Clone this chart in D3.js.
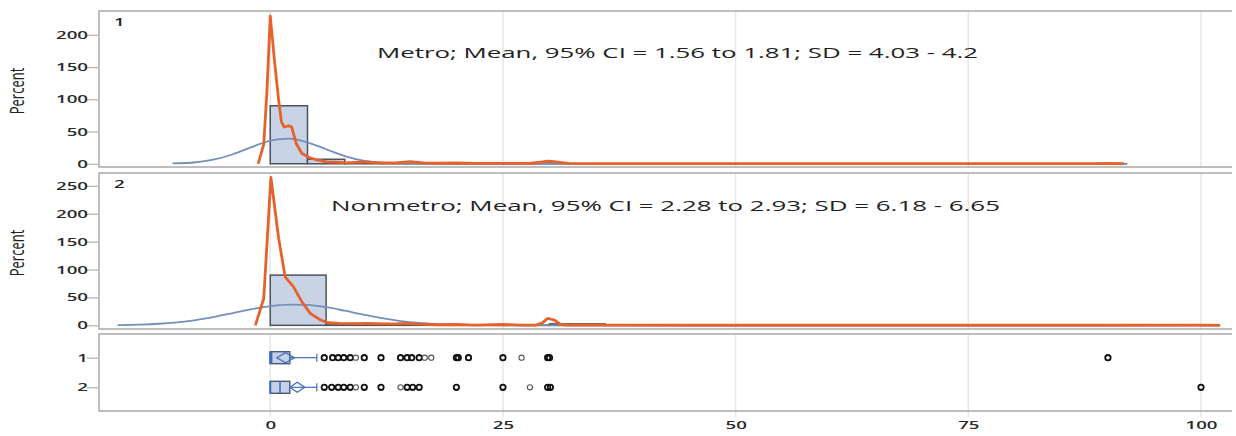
<!DOCTYPE html>
<html>
<head>
<meta charset="utf-8">
<script src="https://cdn.jsdelivr.net/npm/d3@7"></script>
<style>
  body { margin: 0; background: #fff; }
  svg text { font-family: "Open Sans", "DejaVu Sans", sans-serif; fill: #333; }
</style>
</head>
<body>
<div class="chart"></div>
<script>
// ---- data ----
const xTicks = [0, 25, 50, 75, 100];
const panelNames = ["1", "2"];
const yTicksMetro = [0, 50, 100, 150, 200];
const yTicksNonmetro = [0, 50, 100, 150, 200, 250];

const metroNote = "Metro; Mean, 95% CI = 1.56 to 1.81; SD = 4.03 - 4.2";
const nonmetroNote = "Nonmetro; Mean, 95% CI = 2.28 to 2.93; SD = 6.18 - 6.65";

// histogram bins [start, end, percent]
const metroHist = [[0, 4, 90], [4, 8, 7], [8, 12, 1.2], [12, 16, 0.6], [16, 20, 0.3], [20, 24, 0.3], [24, 28, 0.2], [28, 32, 1.2], [88, 92, 0.1]];
const nonmetroHist = [[0, 6, 90], [6, 12, 3], [12, 18, 1.5], [18, 24, 0.6], [24, 30, 0.4], [30, 36, 2.5], [96, 102, 0.2]];

// kernel density (orange)
const metroKdeX = [-1.3, -0.7, -0.35, 0, 0.45, 0.9, 1.2, 1.5, 2.0, 2.3, 2.8, 3.4, 4.3, 5.0, 6.1, 7, 8.2, 10, 11.8, 13.5, 15, 16.5, 18, 20, 22, 25, 28, 29.5, 30, 30.7, 32, 35, 40, 60, 80, 88, 90, 91.7];
const metroKdeY = [0, 30, 114, 229, 160, 99, 65, 57, 59, 57, 31, 16, 9, 6, 3, 2.5, 1.5, 2.8, 1.5, 1.5, 3.5, 1.5, 0.8, 1.2, 0.6, 0.5, 0.8, 3.5, 4, 3, 0.5, 0.3, 0.1, 0.1, 0.1, 0.2, 0.5, 0.1];
const nonmetroKdeX = [-1.6, -0.7, 0.07, 0.9, 1.6, 2.5, 3.4, 4.3, 5.4, 6.2, 7.5, 9, 10.5, 12, 13.5, 14.5, 16, 18, 20, 22, 25, 27, 28.5, 29.2, 29.8, 30.5, 31.2, 32, 35, 45, 70, 90, 100, 102];
const nonmetroKdeY = [0, 48, 265, 156, 87, 69, 42, 21.5, 9.5, 4.7, 3.5, 3, 3.5, 2.5, 2.5, 3.5, 2, 1, 1.5, 0.5, 1.5, 0.3, 0.5, 4, 12.5, 9.5, 1.5, 0.3, 0.2, 0.1, 0.1, 0.1, 0.3, 0];

// fitted normal curve (blue)
const metroNormX = [-10.5, -8, -6, -4, -2, 0, 2, 4, 6, 8, 10, 12, 14, 16, 20, 25, 92];
const metroNormY = [0.5, 2.4, 6.7, 14.8, 25.9, 35.8, 38.9, 33.3, 22.5, 12.0, 5.0, 1.7, 0.4, 0.1, 0, 0, 0];
const nonmetroNormX = [-16.4, -14, -12, -10, -8, -6, -4, -2, 0, 2, 4, 6, 8, 10, 12, 14, 16, 18, 20, 22, 25, 30, 102];
const nonmetroNormY = [0.5, 1.3, 2.8, 5.4, 9.5, 15.2, 22.0, 28.9, 34.4, 37.2, 36.5, 32.5, 26.2, 19.2, 12.7, 7.7, 4.2, 2.1, 0.9, 0.4, 0.1, 0, 0];

// box plots
const boxStats = [
  { name: "1", q1: 0, median: 0.15, q3: 2.1, lo: 0, hi: 5, dLo: 0.7, dHi: 2.6 },
  { name: "2", q1: 0, median: 1.05, q3: 2.1, lo: 0, hi: 5, dLo: 2.1, dHi: 3.7 }
];
const metroOut = [5.8, 6.7, 7.3, 7.9, 8.6, 10.1, 11.9, 14, 14.7, 15.2, 16, 20, 20.2, 21.3, 25, 29.8, 30, 90];
const metroOutLight = [9.2, 16.6, 17.3, 27];
const nonmetroOut = [5.8, 6.6, 7.3, 7.9, 8.6, 10.1, 11.9, 14.7, 15.3, 16, 20, 25, 29.8, 30.1, 100];
const nonmetroOutLight = [9.2, 14, 27.9];

// ---- layout ----
const W = 1236, H = 436;
const left = 99, right = 1228;
const gridCol = "#e6e6e6", frameCol = "#a9a9a9";
const sxTick = 1.7;

const svg = d3.select(".chart").append("svg")
  .attr("width", W).attr("height", H);

const x = d3.scaleLinear().domain([-18.4, 102.9]).range([left, right]);

const panels = [
  { top: 11, bottom: 167, y: d3.scaleLinear().domain([-5, 237]).range([167, 11]), ticks: yTicksMetro,
    hist: metroHist, kx: metroKdeX, ky: metroKdeY, nx: metroNormX, ny: metroNormY, note: metroNote, noteX: 377, noteW: 601, noteY: 58 },
  { top: 173, bottom: 329, y: d3.scaleLinear().domain([-6.6, 273]).range([329, 173]), ticks: yTicksNonmetro,
    hist: nonmetroHist, kx: nonmetroKdeX, ky: nonmetroKdeY, nx: nonmetroNormX, ny: nonmetroNormY, note: nonmetroNote, noteX: 331, noteW: 669, noteY: 211 }
];

function styleLeftAxis(g) {
  g.select(".domain").remove();
  g.selectAll(".tick line").attr("stroke", "#b0b0b0").attr("stroke-width", 1.2);
  g.selectAll(".tick text")
    .attr("x", -10 / sxTick)
    .attr("transform", `scale(${sxTick},1)`)
    .style("font-size", "11px").style("font-weight", 600).style("fill", "#2a2a2a");
}

panels.forEach((p, i) => {
  const g = svg.append("g");
  // grid
  g.selectAll(".grid").data(xTicks).join("line")
    .attr("x1", d => x(d)).attr("x2", d => x(d))
    .attr("y1", p.top).attr("y2", p.bottom)
    .attr("stroke", gridCol).attr("stroke-width", 1.5);

  // histogram
  g.selectAll(".bar").data(p.hist).join("rect")
    .attr("x", d => x(d[0])).attr("width", d => x(d[1]) - x(d[0]))
    .attr("y", d => p.y(d[2])).attr("height", d => p.y(0) - p.y(d[2]))
    .attr("fill", "#c9d3e6").attr("stroke", "#4d525c").attr("stroke-width", 1.5);

  // normal fit
  const normLine = d3.line().x(d => x(d[0])).y(d => p.y(d[1])).curve(d3.curveMonotoneX);
  g.append("path").datum(d3.zip(p.nx, p.ny))
    .attr("d", normLine).attr("fill", "none")
    .attr("stroke", "#7390b8").attr("stroke-width", 1.8);

  // kernel density
  const kdeLine = d3.line().x(d => x(d[0])).y(d => p.y(d[1]));
  g.append("path").datum(d3.zip(p.kx, p.ky))
    .attr("d", kdeLine).attr("fill", "none")
    .attr("stroke", "#e5622b").attr("stroke-width", 2.8).attr("stroke-linejoin", "round");

  // frame (top, left, bottom)
  g.append("path")
    .attr("d", `M${right + 4},${p.top}H${left}V${p.bottom}H${right + 4}`)
    .attr("fill", "none").attr("stroke", frameCol).attr("stroke-width", 1.5);

  // y axis
  svg.append("g").attr("transform", `translate(${left - 1},0)`)
    .call(d3.axisLeft(p.y).tickValues(p.ticks).tickSize(11).tickPadding(0))
    .call(styleLeftAxis);

  // y title
  svg.append("text")
    .attr("transform", `translate(24,${(p.top + p.bottom) / 2 + 2}) scale(1.6,1) rotate(-90)`)
    .attr("text-anchor", "middle")
    .style("font-size", "13px").style("fill", "#222")
    .text("Percent");

  // panel number
  svg.append("text")
    .attr("transform", `translate(114,${p.top + 15}) scale(1.7,1)`)
    .style("font-size", "11px").style("font-weight", 600).style("fill", "#222")
    .text(panelNames[i]);

  // annotation
  svg.append("text")
    .attr("x", p.noteX).attr("y", p.noteY)
    .attr("textLength", p.noteW).attr("lengthAdjust", "spacingAndGlyphs")
    .style("font-size", "14px").style("fill", "#222")
    .text(p.note);
});

// ---- box plot panel ----
const bTop = 334, bBottom = 411;
const yb = d3.scalePoint().domain(panelNames).range([bTop, bBottom]).padding(0.8);
const gb = svg.append("g");

gb.selectAll(".grid").data(xTicks).join("line")
  .attr("x1", d => x(d)).attr("x2", d => x(d))
  .attr("y1", bTop).attr("y2", bBottom + 6)
  .attr("stroke", gridCol).attr("stroke-width", 1.5);

const outliers = [[metroOut, metroOutLight], [nonmetroOut, nonmetroOutLight]];
const bh = 12, blue = "#3d6cc4";

boxStats.forEach((b, i) => {
  const cy = yb(b.name);
  const g = gb.append("g");
  g.append("line").attr("x1", x(b.q3)).attr("x2", x(b.hi)).attr("y1", cy).attr("y2", cy)
    .attr("stroke", blue).attr("stroke-width", 1.2);
  g.append("line").attr("x1", x(b.hi)).attr("x2", x(b.hi)).attr("y1", cy - 4).attr("y2", cy + 4)
    .attr("stroke", blue).attr("stroke-width", 1.2);
  g.append("rect").attr("x", x(b.q1)).attr("width", x(b.q3) - x(b.q1))
    .attr("y", cy - bh / 2).attr("height", bh)
    .attr("fill", "#c6d1e8").attr("stroke", "#4a5875").attr("stroke-width", 1.4);
  g.append("line").attr("x1", x(b.lo)).attr("x2", x(b.lo)).attr("y1", cy - bh / 2).attr("y2", cy + bh / 2)
    .attr("stroke", blue).attr("stroke-width", 2);
  g.append("line").attr("x1", x(b.median)).attr("x2", x(b.median)).attr("y1", cy - bh / 2).attr("y2", cy + bh / 2)
    .attr("stroke", blue).attr("stroke-width", 1.5);
  const mid = (b.dLo + b.dHi) / 2;
  g.append("path")
    .attr("d", `M${x(b.dLo)},${cy}L${x(mid)},${cy - 5}L${x(b.dHi)},${cy}L${x(mid)},${cy + 5}Z`)
    .attr("fill", "none").attr("stroke", blue).attr("stroke-width", 1.3);

  const [dark, light] = outliers[i];
  g.selectAll(".o").data(dark).join("circle")
    .attr("cx", d => x(d)).attr("cy", cy).attr("r", 2.7)
    .attr("fill", "none").attr("stroke", "#111").attr("stroke-width", 1.8);
  g.selectAll(".ol").data(light).join("circle")
    .attr("cx", d => x(d)).attr("cy", cy).attr("r", 2.6)
    .attr("fill", "none").attr("stroke", "#555").attr("stroke-width", 1.1);
});

gb.append("path")
  .attr("d", `M${right + 4},${bTop}H${left}V${bBottom}H${right + 4}`)
  .attr("fill", "none").attr("stroke", frameCol).attr("stroke-width", 1.5);

svg.append("g").attr("transform", `translate(${left - 1},0)`)
  .call(d3.axisLeft(yb).tickSize(11).tickPadding(0))
  .call(styleLeftAxis);

// x axis
const xa = svg.append("g").attr("transform", `translate(0,${bBottom})`)
  .call(d3.axisBottom(x).tickValues(xTicks).tickSize(0).tickPadding(10));
xa.select(".domain").remove();
xa.selectAll(".tick text")
  .attr("transform", `scale(${sxTick},1)`)
  .style("font-size", "11px").style("font-weight", 600).style("fill", "#2a2a2a");
</script>
</body>
</html>
